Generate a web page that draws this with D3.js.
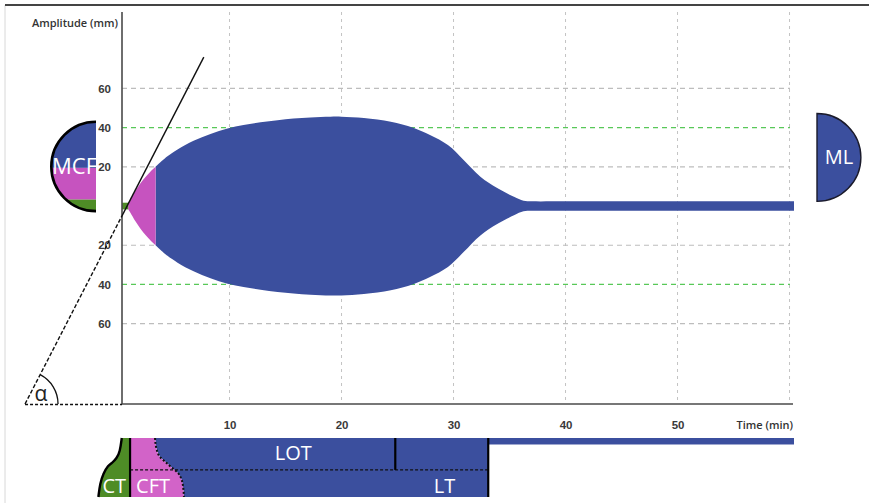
<!DOCTYPE html>
<html><head><meta charset="utf-8">
<script src="https://cdn.jsdelivr.net/npm/d3@7/dist/d3.min.js"></script>
<style>
html,body{margin:0;padding:0;background:#fff;}
svg{display:block;font-family:"Open Sans",sans-serif;}
</style>
</head><body>
<svg id="chart" width="869" height="503"></svg>
<script>
// Trace envelope (amplitude in mm against time in min), one array pair per phase
const ctTimes  = [0.4, 0.95];
const ctAmps   = [1.7, 1.7];
const cftTimes = [0.95, 1.15, 1.6, 2.05, 2.5, 2.95, 3.4];
const cftAmps  = [1.7, 3.4, 7.8, 11.6, 14.8, 17.6, 20.0];
const mainTimes = [3.4, 4.0, 4.46, 5.36, 6.79, 8.3, 9.82, 11.25, 12.77, 14.29, 15.71, 17.23, 19.0, 20.0,
                   22.0, 24.4, 26.4, 27.9, 29.5, 30.9, 32.4, 33.9, 35.4, 36.25, 37.0, 40.0, 50.0, 60.4];
const mainAmps  = [20.0, 23.2, 25.4, 28.9, 33.3, 36.8, 39.6, 41.3, 42.7, 43.8, 44.6, 45.2, 45.6, 45.6,
                   44.9, 43.0, 39.9, 36.2, 31.1, 23.5, 15.0, 9.2, 4.7, 2.7, 2.4, 2.4, 2.4, 2.4];

// Axis ticks and grid
const xTickValues = [10, 20, 30, 40, 50];
const xGridValues = [10, 20, 30, 40, 50, 60];
const yTickValues = [60, 40, 20, -20, -40, -60];
const yGridGrey   = [60, 20, -20, -60];
const yGridGreen  = [40, -40];

// MCF marker bands (mm) and ML marker extent (mm)
const mcfBandNames = ["ct", "cft", "mcf"];
const mcfBandFrom  = [-2.6, 3.4, 19.5];
const mcfBandTo    = [3.4, 19.5, 43.0];
const mlExtent     = [2.4, 47.2];

// Alpha tangent: crosses zero amplitude at this time, slope in mm/min, top end in mm
const alphaAnchor = 0.85;
const alphaSlope  = 11.09;
const alphaTop    = 76;

// Phase bar: boundaries in min, outline profiles as [time, fraction of bar height]
const phaseNames = ["CT", "CFT", "LOT", "LT"];
const phaseEnds  = [1.12, 24.8, 33.1, 60.4]; // CT end, LOT end, LT end, record end
const ctEdge  = [[0.38, 0], [0.22, 0.23], [-0.07, 0.345], [-0.52, 0.43], [-0.83, 0.46],
                 [-1.27, 0.6], [-1.56, 0.77], [-1.71, 1]];
const cftEdge = [[3.35, 0], [3.5, 0.2], [3.79, 0.32], [4.24, 0.4], [4.84, 0.5],
                 [5.43, 0.6], [5.73, 0.71], [5.87, 0.85], [5.93, 1]];

const BLUE = "#3b4f9e", PINK = "#c653bf", GREEN = "#4e8c26";
const PINK_BAR = "#d263c8";

const svg = d3.select("#chart");
const tStart = 0.4, tEnd = 60.4;
const x = d3.scaleLinear().domain([tStart, tEnd]).range([122, 794]);
const y = d3.scaleLinear().domain([-101, 99]).range([404, 12]);
const by = d3.scaleLinear().domain([0, 1]).range([438, 497]);

// frame
svg.append("line").attr("x1", 5).attr("x2", 5).attr("y1", 5).attr("y2", 503)
  .attr("stroke", "#d8d8d8").attr("stroke-width", 1);
svg.append("line").attr("x1", 5).attr("x2", 869).attr("y1", 5).attr("y2", 5)
  .attr("stroke", "#444").attr("stroke-width", 2);

// grid
const grid = svg.append("g");
grid.selectAll("line.v").data(xGridValues).join("line")
  .attr("x1", d => x(d)).attr("x2", d => x(d)).attr("y1", y(99)).attr("y2", y(-101))
  .attr("stroke", "#c4c4c4").attr("stroke-width", 1).attr("stroke-dasharray", "3,4");
grid.selectAll("line.hg").data(yGridGrey).join("line")
  .attr("x1", x(tStart)).attr("x2", x(tEnd) - 4).attr("y1", d => y(d)).attr("y2", d => y(d))
  .attr("stroke", "#bdbdbd").attr("stroke-width", 1.2).attr("stroke-dasharray", "5,4");
svg.append("g").selectAll("line").data(yGridGreen).join("line")
  .attr("x1", x(tStart)).attr("x2", x(tEnd) - 4).attr("y1", d => y(d)).attr("y2", d => y(d))
  .attr("stroke", "#58c858").attr("stroke-width", 1.3).attr("stroke-dasharray", "5,4");

// trace
const toPts = (ts, as) => ts.map((t, i) => ({t, a: as[i]}));
const area = d3.area().x(d => x(d.t)).y0(d => y(-d.a)).y1(d => y(d.a))
  .curve(d3.curveCatmullRom.alpha(0.5));
svg.append("path").attr("d", area(toPts(mainTimes, mainAmps))).attr("fill", BLUE);
svg.append("path").attr("d", area(toPts(cftTimes, cftAmps))).attr("fill", PINK);
svg.append("path").attr("d", area(toPts(ctTimes, ctAmps))).attr("fill", GREEN);

// axes
const yAxis = d3.axisLeft(y).tickValues(yTickValues).tickSize(0).tickPadding(11)
  .tickFormat(d => Math.abs(d));
const gy = svg.append("g").attr("transform", `translate(${x(tStart)},0)`).call(yAxis);
gy.select(".domain").remove();
gy.selectAll("text").attr("font-size", 11.5).attr("fill", "#3a3a3a").attr("font-weight", 600);

const xAxis = d3.axisBottom(x).tickValues(xTickValues).tickSize(0).tickPadding(17);
const gx = svg.append("g").attr("transform", `translate(0,${y(-101)})`).call(xAxis);
gx.select(".domain").remove();
gx.selectAll("text").attr("font-size", 11.5).attr("fill", "#3a3a3a").attr("font-weight", 600);

svg.append("line").attr("x1", x(tStart)).attr("x2", x(tStart)).attr("y1", y(99)).attr("y2", y(-101))
  .attr("stroke", "#4a4a4a").attr("stroke-width", 1.6);
svg.append("line").attr("x1", x(tStart)).attr("x2", x(tEnd) - 1).attr("y1", y(-101)).attr("y2", y(-101))
  .attr("stroke", "#4a4a4a").attr("stroke-width", 1.6);

svg.append("text").attr("x", x(tStart) - 4).attr("y", 27).attr("text-anchor", "end")
  .attr("font-size", 11).attr("fill", "#333").attr("font-weight", 600).text("Amplitude (mm)");
svg.append("text").attr("x", x(tEnd) - 1).attr("y", 429).attr("text-anchor", "end")
  .attr("font-size", 11).attr("fill", "#333").attr("font-weight", 600).text("Time (min)");

// alpha tangent construction
const tAxis = alphaAnchor + (-101) / alphaSlope;
const tTop = alphaAnchor + alphaTop / alphaSlope;
const ampAtAxis = (tStart - alphaAnchor) * alphaSlope;
svg.append("line").attr("x1", x(tAxis)).attr("y1", y(-101)).attr("x2", x(tStart)).attr("y2", y(ampAtAxis))
  .attr("stroke", "#111").attr("stroke-width", 1.4).attr("stroke-dasharray", "4,2");
svg.append("line").attr("x1", x(tStart)).attr("y1", y(ampAtAxis)).attr("x2", x(tTop)).attr("y2", y(alphaTop))
  .attr("stroke", "#111").attr("stroke-width", 1.4);
svg.append("line").attr("x1", x(tAxis)).attr("y1", y(-101) + 0.5).attr("x2", x(tStart)).attr("y2", y(-101) + 0.5)
  .attr("stroke", "#111").attr("stroke-width", 1.4).attr("stroke-dasharray", "3,2");
{
  const cx = x(tAxis), cy = y(-101), r = 33;
  const ang = Math.atan2(y(-101) - y(alphaTop), x(tTop) - x(tAxis));
  svg.append("path")
    .attr("d", `M${cx + r},${cy} A${r},${r} 0 0 0 ${cx + r * Math.cos(ang)},${cy - r * Math.sin(ang)}`)
    .attr("fill", "none").attr("stroke", "#111").attr("stroke-width", 1.3);
  svg.append("text").attr("x", cx + 16).attr("y", cy - 3).attr("text-anchor", "middle")
    .attr("font-size", 21).attr("fill", "#222").text("α");
}

// MCF marker: left half-disc split into phase bands
{
  const fx = 96;
  const top = y(d3.max(mcfBandTo)), bot = y(d3.min(mcfBandFrom));
  const r = (bot - top) / 2, cy = (bot + top) / 2;
  const defs = svg.append("defs");
  defs.append("clipPath").attr("id", "mcfClip").append("path")
    .attr("d", `M${fx},${top} A${r},${r} 0 0 0 ${fx},${bot} Z`);
  const colors = {ct: GREEN, cft: PINK, mcf: BLUE};
  const g = svg.append("g").attr("clip-path", "url(#mcfClip)");
  g.selectAll("rect").data(mcfBandNames).join("rect")
    .attr("x", fx - r - 2).attr("width", r + 2)
    .attr("y", (d, i) => y(mcfBandTo[i])).attr("height", (d, i) => y(mcfBandFrom[i]) - y(mcfBandTo[i]))
    .attr("fill", d => colors[d]);
  svg.append("path").attr("d", `M${fx},${top} A${r},${r} 0 0 0 ${fx},${bot}`)
    .attr("fill", "none").attr("stroke", "#000").attr("stroke-width", 2.6);
  svg.append("text").attr("x", fx + 1).attr("y", cy + 8).attr("text-anchor", "end")
    .attr("font-size", 22).attr("fill", "#fff").text("MCF");
}

// ML marker: right half-disc
{
  const fx = 817;
  const top = y(mlExtent[1]), bot = y(mlExtent[0]);
  const r = (bot - top) / 2, cy = (bot + top) / 2;
  svg.append("path").attr("d", `M${fx},${top} A${r},${r} 0 0 1 ${fx},${bot} Z`)
    .attr("fill", BLUE).attr("stroke", "#1a1a2a").attr("stroke-width", 1.4);
  svg.append("text").attr("x", fx + r / 2).attr("y", cy + 7).attr("text-anchor", "middle")
    .attr("font-size", 20).attr("fill", "#fff").text("ML");
}

// Phase bar under the time axis
{
  const [tCT, tLOT, tLT, tRec] = phaseEnds;
  const P = d => [x(d[0]), by(d[1])];
  const mid = 0.54;
  // blue body (from the CFT boundary to LT end)
  const bluePts = cftEdge.map(P).concat([[x(tLT), by(1)], [x(tLT), by(0)]]);
  svg.append("path").attr("d", "M" + bluePts.join("L") + "Z").attr("fill", BLUE);
  // thin tail after LT
  svg.append("rect").attr("x", x(tLT)).attr("y", by(0)).attr("width", x(tRec) - x(tLT))
    .attr("height", by(0.11) - by(0)).attr("fill", BLUE);
  // pink CFT region
  const cftLine = d3.line().curve(d3.curveMonotoneY);
  const pinkPts = [[x(tCT), by(0)]].concat(cftEdge.map(P)).concat([[x(tCT), by(1)]]);
  svg.append("path").attr("d", cftLine(pinkPts) + "Z").attr("fill", PINK_BAR);
  // green CT region
  const ctPts = ctEdge.map(P);
  const ctCurve = d3.line().curve(d3.curveBasis);
  svg.append("path")
    .attr("d", ctCurve(ctPts) + `L${x(tCT)},${by(1)}L${x(tCT)},${by(0)}Z`)
    .attr("fill", GREEN);
  svg.append("path").attr("d", ctCurve(ctPts)).attr("fill", "none")
    .attr("stroke", "#000").attr("stroke-width", 2.4);
  // dashed middle line
  svg.append("line").attr("x1", x(tCT)).attr("x2", x(tLT)).attr("y1", by(mid)).attr("y2", by(mid))
    .attr("stroke", "#111").attr("stroke-width", 1.2).attr("stroke-dasharray", "3,2");
  // dotted CFT boundary
  svg.append("path").attr("d", d3.line().curve(d3.curveMonotoneY)(cftEdge.map(P)))
    .attr("fill", "none").attr("stroke", "#111").attr("stroke-width", 2).attr("stroke-dasharray", "2,2");
  // phase end markers
  svg.append("line").attr("x1", x(tCT)).attr("x2", x(tCT)).attr("y1", by(0)).attr("y2", by(1))
    .attr("stroke", "#000").attr("stroke-width", 2.2);
  svg.append("line").attr("x1", x(tLOT)).attr("x2", x(tLOT)).attr("y1", by(0)).attr("y2", by(mid))
    .attr("stroke", "#000").attr("stroke-width", 2.2);
  svg.append("line").attr("x1", x(tLT)).attr("x2", x(tLT)).attr("y1", by(0)).attr("y2", by(1))
    .attr("stroke", "#000").attr("stroke-width", 2.2);
  // labels
  const labelX = [ (x(ctEdge[ctEdge.length - 1][0]) + x(tCT)) / 2, x(tCT) + 23, x(15.7), x(29.2) ];
  const labelY = [by(0.82), by(0.82), by(0.25), by(0.82)];
  svg.selectAll("text.phase").data(phaseNames).join("text")
    .attr("class", "phase")
    .attr("x", (d, i) => labelX[i]).attr("y", (d, i) => labelY[i] + 7)
    .attr("text-anchor", "middle").attr("font-size", 20).attr("fill", "#fff").text(d => d);
}
</script>
</body></html>
